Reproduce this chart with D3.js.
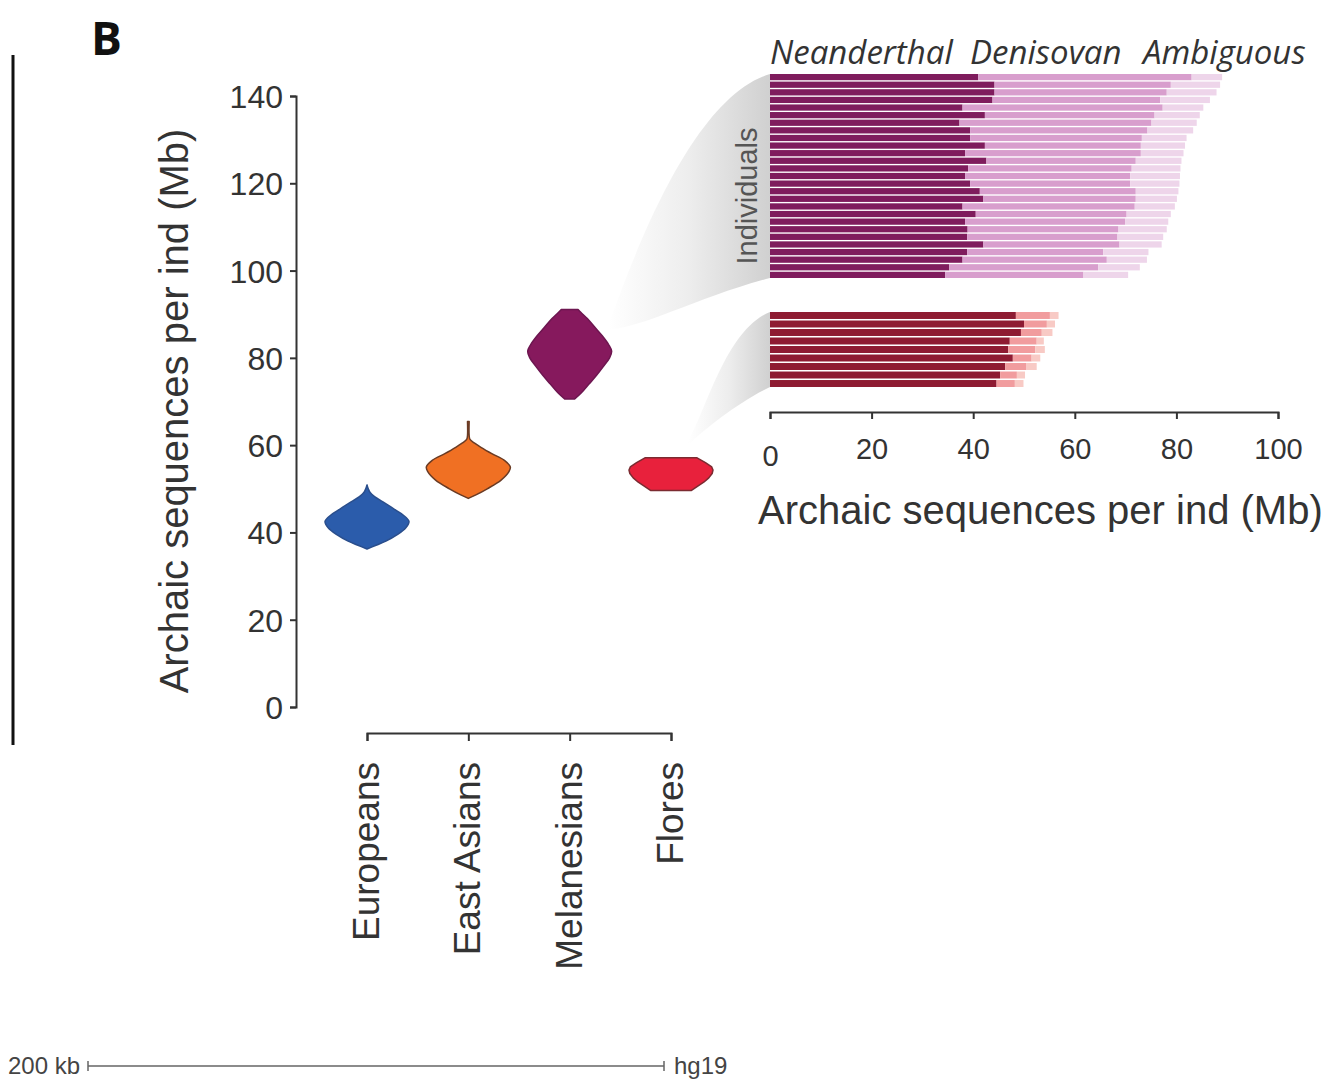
<!DOCTYPE html>
<html>
<head>
<meta charset="utf-8">
<script src="https://cdn.jsdelivr.net/npm/d3@7"></script>
<style>
  body { margin: 0; background: #fff; }
  svg { font-family: "Liberation Sans", Arial, Helvetica, sans-serif; }
</style>
</head>
<body>
<svg id="chart" width="1332" height="1079"></svg>
<script>
// populations in the violin panel
var populations = ["Europeans", "East Asians", "Melanesians", "Flores"];
var popFill = ["#2b5cab", "#f07023", "#86195d", "#e8213c"];
var popStroke = ["#2a4e8c", "#6a3b24", "#6d1650", "#7b2b31"];
var yTicks = [0, 20, 40, 60, 80, 100, 120, 140];
var barTicks = [0, 20, 40, 60, 80, 100];

// violin outlines: [Mb, relative half width]
var violinEuropeans = [[36.2, 0], [37, 0.2], [38, 0.45], [39.5, 0.72], [41, 0.92], [42.5, 1.0], [44, 0.86], [45.5, 0.62], [47, 0.38], [48.2, 0.18], [49.2, 0.07], [50, 0.03], [50.9, 0]];
var violinEastAsians = [[47.8, 0], [48.6, 0.18], [50, 0.45], [52, 0.78], [54, 0.97], [55, 1.0], [56.5, 0.86], [58, 0.57], [59.5, 0.3], [60.5, 0.14], [61.3, 0.04], [62.2, 0.02], [65.4, 0.02]];
var violinMelanesians = [[70.6, 0.12], [72, 0.28], [74, 0.46], [76, 0.64], [78, 0.8], [80, 0.95], [81.5, 1.0], [83, 0.93], [85, 0.78], [87, 0.6], [89, 0.42], [90.4, 0.27], [91.1, 0.2]];
var violinFlores = [[49.6, 0.48], [50.5, 0.62], [51.5, 0.78], [52.5, 0.9], [53.5, 0.98], [54.3, 1.0], [55, 0.97], [56, 0.82], [57.1, 0.62]];
var violins = [violinEuropeans, violinEastAsians, violinMelanesians, violinFlores];

// per individual archaic sequence (Mb), Melanesians
var melNeanderthal = [41.0, 44.2, 44.2, 43.8, 37.9, 42.3, 37.3, 39.4, 39.4, 42.3, 38.4, 42.6, 39.0, 38.4, 39.4, 41.3, 42.0, 37.9, 40.5, 38.4, 38.9, 38.8, 42.0, 38.8, 37.9, 35.3, 34.5];
var melDenisovan = [42.0, 34.7, 33.9, 33.0, 39.4, 33.4, 37.8, 34.9, 33.8, 30.7, 34.6, 29.4, 32.2, 32.5, 31.5, 30.7, 30.0, 33.9, 29.7, 31.5, 29.7, 29.6, 26.8, 26.8, 28.4, 29.3, 27.2];
var melAmbiguous = [6.0, 9.7, 9.8, 9.8, 8.0, 8.9, 8.9, 9.0, 8.8, 8.7, 8.4, 9.0, 9.6, 9.8, 9.7, 8.4, 8.1, 7.9, 8.7, 8.5, 9.5, 9.0, 8.3, 8.9, 7.9, 8.2, 8.8];

// per individual archaic sequence (Mb), Flores
var floNeanderthal = [48.4, 50.0, 49.4, 47.2, 46.9, 47.8, 46.3, 45.3, 44.6];
var floDenisovan = [6.7, 4.5, 4.1, 5.3, 5.3, 3.7, 4.2, 3.3, 3.6];
var floAmbiguous = [1.7, 1.6, 2.1, 1.4, 1.9, 1.7, 2.0, 1.6, 1.7];

var sources = ["Neanderthal", "Denisovan", "Ambiguous"];
var melColors = ["#7f1c5d", "#d89ecd", "#eed5ea"];
var floColors = ["#8e1b32", "#f19c9e", "#f8cac5"];

var svg = d3.select("#chart");
var textColor = "#333";

// ---- scales
var yScale = d3.scaleLinear().domain([0, 140]).range([707, 96]);
var xCat = d3.scalePoint().domain(populations).range([367, 671]);
var wScale = d3.scaleLinear().domain([0, 1]).range([0, 42]);
var xBar = d3.scaleLinear().domain([0, 100]).range([770, 1278]);

var melRows = d3.range(melNeanderthal.length);
var floRows = d3.range(floNeanderthal.length);
var yMel = d3.scaleBand().domain(melRows).range([74, 278]).paddingInner(0.18);
var yFlo = d3.scaleBand().domain(floRows).range([312, 387]).paddingInner(0.18);

// ---- gray connectors (drawn first, underneath)
var defs = svg.append("defs");
var grad = defs.append("linearGradient").attr("id", "fade").attr("x1", "0%").attr("x2", "100%");
grad.append("stop").attr("offset", "0%").attr("stop-color", "#ffffff");
grad.append("stop").attr("offset", "50%").attr("stop-color", "#ededed");
grad.append("stop").attr("offset", "100%").attr("stop-color", "#d0d0d0");

function funnel(tx, ty, x1, yTop, yBot, c) {
  var p = d3.path();
  p.moveTo(tx, ty);
  p.bezierCurveTo(c[0], c[1], c[2], c[3], x1, yTop);
  p.lineTo(x1, yBot);
  p.bezierCurveTo(c[4], c[5], c[6], c[7], tx, ty + 4);
  p.closePath();
  return p.toString();
}

var melTipX = xCat("Melanesians") + 39, melTipY = yScale(87.5);
var melTop = yMel(0), melBot = yMel(melRows.length - 1) + yMel.bandwidth();
svg.append("path")
  .attr("d", funnel(melTipX, melTipY, xBar(0), melTop, melBot,
    [melTipX + 32, melTipY - 90, melTipX + 88, melTop + 22, melTipX + 92, melBot + 18, melTipX + 32, melTipY + 4]))
  .attr("fill", "url(#fade)");

var floTipX = xCat("Flores") + 17, floTipY = yScale(61);
var floTop = yFlo(0), floBot = yFlo(floRows.length - 1) + yFlo.bandwidth();
svg.append("path")
  .attr("d", funnel(floTipX, floTipY, xBar(0), floTop, floBot,
    [floTipX + 17, floTipY - 26, floTipX + 37, floTop + 18, floTipX + 52, floBot + 14, floTipX + 17, floTipY - 12]))
  .attr("fill", "url(#fade)");

// ---- panel letter and side rule
svg.append("text")
  .attr("x", 91).attr("y", 55)
  .style("font-family", "'Open Sans', 'DejaVu Sans', sans-serif")
  .style("font-weight", 700)
  .style("font-size", "46px")
  .attr("fill", "#111")
  .text("B");

svg.append("line")
  .attr("x1", 13).attr("x2", 13).attr("y1", 55).attr("y2", 745)
  .attr("stroke", "#111").attr("stroke-width", 3);

// ---- y axis
var yAxis = svg.append("g")
  .attr("transform", "translate(296,0)")
  .call(d3.axisLeft(yScale).tickValues(yTicks).tickSize(6).tickPadding(7));
yAxis.selectAll("text").style("font-size", "32px").attr("fill", textColor).attr("dy", "0.36em");
yAxis.selectAll("path, line").attr("stroke", "#333").attr("stroke-width", 2);

svg.append("text")
  .attr("transform", "translate(188,411) rotate(-90)")
  .attr("text-anchor", "middle")
  .style("font-size", "40px")
  .attr("fill", textColor)
  .text("Archaic sequences per ind (Mb)");

// ---- category axis
var xAxis = svg.append("g")
  .attr("transform", "translate(0,733)")
  .call(d3.axisBottom(xCat).tickSize(8));
xAxis.selectAll("text").remove();
xAxis.selectAll("path, line").attr("stroke", "#333").attr("stroke-width", 2);

svg.selectAll(".catlabel")
  .data(populations)
  .enter()
  .append("text")
  .attr("class", "catlabel")
  .attr("transform", d => `translate(${xCat(d) + 12},762) rotate(-90)`)
  .attr("text-anchor", "end")
  .style("font-size", "37px")
  .attr("fill", textColor)
  .text(d => d);

// ---- violins
populations.forEach(function(pop, i) {
  var cx = xCat(pop);
  var area = d3.area()
    .y(d => yScale(d[0]))
    .x0(d => cx - wScale(d[1]))
    .x1(d => cx + wScale(d[1]))
    .curve(pop === "Flores" ? d3.curveLinear : d3.curveCatmullRom);
  svg.append("path")
    .datum(violins[i])
    .attr("d", area)
    .attr("fill", popFill[i])
    .attr("stroke", popStroke[i])
    .attr("stroke-width", 1.5)
    .attr("stroke-linejoin", "round");
});

// ---- stacked bars per individual
function stackRows(n, d, a) {
  return n.map((v, i) => ({ row: i, Neanderthal: v, Denisovan: d[i], Ambiguous: a[i] }));
}
var stack = d3.stack().keys(sources);

function drawBars(rows, yBand, colors) {
  var series = stack(rows);
  var g = svg.append("g");
  g.selectAll("g")
    .data(series)
    .enter()
    .append("g")
    .attr("fill", (s, i) => colors[i])
    .selectAll("rect")
    .data(s => s)
    .enter()
    .append("rect")
    .attr("x", d => xBar(d[0]))
    .attr("width", d => xBar(d[1]) - xBar(d[0]))
    .attr("y", d => yBand(d.data.row))
    .attr("height", yBand.bandwidth());
}
drawBars(stackRows(melNeanderthal, melDenisovan, melAmbiguous), yMel, melColors);
drawBars(stackRows(floNeanderthal, floDenisovan, floAmbiguous), yFlo, floColors);

// legend words above the bars
var legendX = [770, 970, 1143];
svg.selectAll(".srclabel")
  .data(sources)
  .enter()
  .append("text")
  .attr("class", "srclabel")
  .attr("x", (d, i) => legendX[i])
  .attr("y", 64)
  .style("font-family", "'Open Sans', 'DejaVu Sans', sans-serif")
  .style("font-style", "italic")
  .style("font-size", "33px")
  .attr("fill", textColor)
  .text(d => d);

svg.append("text")
  .attr("transform", "translate(757,196) rotate(-90)")
  .attr("text-anchor", "middle")
  .style("font-size", "29px")
  .attr("fill", "#555")
  .text("Individuals");

// ---- bar x axis
var barAxis = svg.append("g")
  .attr("transform", "translate(0,412)")
  .call(d3.axisBottom(xBar).tickValues(barTicks).tickSize(7).tickPadding(19));
barAxis.selectAll("text")
  .style("font-size", "29px")
  .attr("fill", textColor)
  .attr("dy", d => d === 0 ? "0.95em" : "0.71em");
barAxis.selectAll("path, line").attr("stroke", "#333").attr("stroke-width", 2);

svg.append("text")
  .attr("x", 758).attr("y", 524)
  .style("font-size", "40px")
  .attr("fill", textColor)
  .text("Archaic sequences per ind (Mb)");

// ---- scale bar at the bottom
var scaleY = 1066;
svg.append("text").attr("x", 8).attr("y", scaleY + 8)
  .style("font-size", "24px").attr("fill", "#444").text("200 kb");
svg.append("path")
  .attr("d", `M88,${scaleY - 5}V${scaleY + 5}M88,${scaleY}H664M664,${scaleY - 5}V${scaleY + 5}`)
  .attr("stroke", "#666").attr("stroke-width", 1.5).attr("fill", "none");
svg.append("text").attr("x", 674).attr("y", scaleY + 8)
  .style("font-size", "24px").attr("fill", "#444").text("hg19");
</script>
</body>
</html>
